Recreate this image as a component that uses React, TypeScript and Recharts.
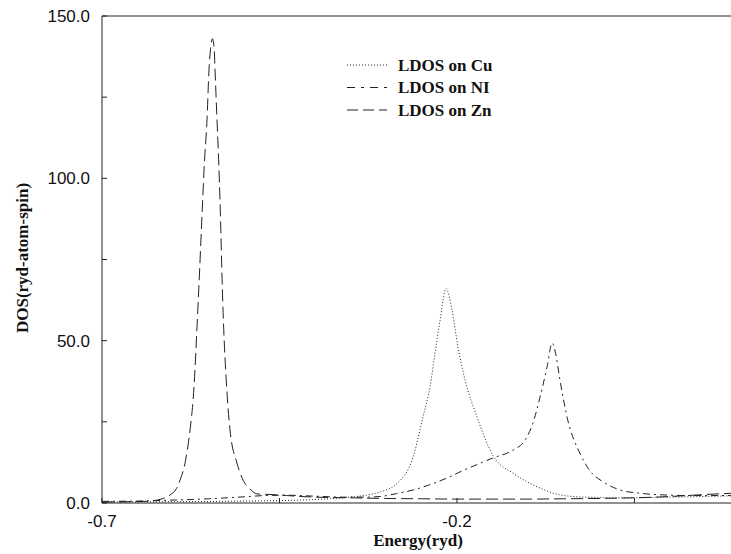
import { LineChart, Line, XAxis, YAxis, ReferenceLine, Legend } from 'recharts';

// Energy (ryd) / DOS points, one pair of arrays per atom
const cuEnergy = [-0.70, -0.60, -0.50, -0.42, -0.38, -0.351, -0.3085, -0.2845, -0.262, -0.2479, -0.238, -0.231, -0.224, -0.2155, -0.207, -0.1986, -0.1887, -0.1718, -0.149, -0.121, -0.087, -0.055, -0.02, 0.03, 0.10, 0.186];
const cuDos = [0.3, 0.4, 0.6, 0.9, 1.3, 1.8, 3.4, 6.0, 14.0, 26.5, 35.7, 46, 56, 66, 59.5, 48, 38, 26.5, 14.5, 9.2, 5.0, 2.5, 1.8, 1.6, 1.8, 2.2];

const niEnergy = [-0.70, -0.65, -0.60, -0.55, -0.50, -0.47, -0.44, -0.40, -0.36, -0.33, -0.3085, -0.285, -0.262, -0.24, -0.214, -0.1915, -0.17, -0.149, -0.121, -0.104, -0.093, -0.083, -0.073, -0.066, -0.061, -0.055, -0.044, -0.027, -0.013, 0.006, 0.030, 0.058, 0.09, 0.12, 0.15, 0.186];
const niDos = [0.5, 0.6, 0.9, 1.3, 1.9, 2.3, 2.4, 2.1, 1.8, 1.8, 2.0, 2.9, 4.0, 5.5, 7.7, 10.0, 12.0, 13.9, 16.3, 19.4, 24.6, 32.6, 42, 49.3, 46, 38, 25.6, 15.4, 10.0, 6.5, 4.0, 3.0, 2.5, 2.3, 2.3, 2.3];

const znEnergy = [-0.70, -0.66, -0.64, -0.628, -0.615, -0.604, -0.595, -0.590, -0.583, -0.576, -0.5714, -0.5644, -0.5582, -0.5563, -0.5521, -0.5493, -0.547, -0.5445, -0.542, -0.5408, -0.538, -0.5352, -0.5338, -0.530, -0.5235, -0.5197, -0.5099, -0.5014, -0.49, -0.4817, -0.46, -0.44, -0.42, -0.40, -0.35, -0.30, -0.25, -0.20, -0.15, -0.10, -0.05, 0.00, 0.05, 0.10, 0.14, 0.186];
const znDos = [0.3, 0.4, 0.5, 0.7, 1.3, 2.5, 4.5, 7.1, 12.3, 22.5, 32.6, 62.5, 93.3, 102.6, 118, 133.4, 140, 143, 140, 133.4, 118, 102.6, 93.3, 62.5, 32.6, 22.5, 12.3, 7.1, 4.0, 2.8, 2.6, 2.3, 2.0, 1.8, 1.6, 1.4, 1.3, 1.2, 1.2, 1.2, 1.3, 1.4, 1.6, 2.0, 2.5, 3.0];

const xTicks = [-0.7, -0.45, -0.2, 0.05];
const xLabelled = [-0.7, -0.2];
const yTicks = [0, 25, 50, 75, 100, 125, 150];
const yLabelled = [0, 50, 100, 150];

const series = [
  { name: 'LDOS on Cu', energy: cuEnergy, dos: cuDos, dash: '1 2' },
  { name: 'LDOS on NI', energy: niEnergy, dos: niDos, dash: '7 4 2 4' },
  { name: 'LDOS on Zn', energy: znEnergy, dos: znDos, dash: '12 5' },
];

const legendDash = ['1 2', '8 6 3 6', '11 5'];

const toRows = (energy: number[], dos: number[]) => energy.map((e, i) => ({ e, v: dos[i] }));

const sans = '"Liberation Sans", Arial, sans-serif';
const serif = '"Liberation Serif", "Times New Roman", serif';
const ink = '#222';

const near = (list: number[], v: number) => list.some((t) => Math.abs(t - v) < 1e-9);

const XTick = (props: any) => {
  const { x, y, payload } = props;
  if (!near(xLabelled, payload.value)) return <g />;
  return (
    <text x={x} y={y} dy="0.71em" textAnchor="middle" fontFamily={sans} fontSize={17} fill="#111">
      {payload.value.toFixed(1)}
    </text>
  );
};

const YTick = (props: any) => {
  const { x, y, payload } = props;
  if (!near(yLabelled, payload.value)) return <g />;
  return (
    <text x={x} y={y} dy="0.35em" textAnchor="end" fontFamily={sans} fontSize={17} fill="#111">
      {payload.value.toFixed(1)}
    </text>
  );
};

const renderLegend = () => (
  <svg width={200} height={72}>
    {series.map((s, i) => (
      <g key={s.name}>
        <line x1={7} x2={47} y1={13 + i * 22.5} y2={13 + i * 22.5} stroke={ink} strokeWidth={1} strokeDasharray={legendDash[i]} />
        <text x={58} y={13 + i * 22.5} dy="0.33em" fontFamily={serif} fontWeight="bold" fontSize={17} fill="#111">
          {s.name}
        </text>
      </g>
    ))}
  </svg>
);

export default function App() {
  return (
    <div style={{ position: 'absolute', left: 0, top: 0, background: '#fff' }}>
      <LineChart width={731} height={554} margin={{ top: 16, right: 0, bottom: 0, left: 0 }}>
        <XAxis
          type="number"
          dataKey="e"
          domain={[-0.7, 0.186]}
          allowDataOverflow
          ticks={xTicks}
          interval={0}
          height={51}
          tick={XTick}
          tickSize={-5}
          tickMargin={17}
          axisLine={{ stroke: ink }}
          tickLine={{ stroke: ink }}
          label={{
            content: () => (
              <text x={418} y={546} textAnchor="middle" fontFamily={serif} fontWeight="bold" fontSize={17} fill="#111">
                Energy(ryd)
              </text>
            ),
          }}
        />
        <YAxis
          type="number"
          dataKey="v"
          domain={[0, 150]}
          allowDataOverflow
          ticks={yTicks}
          interval={0}
          width={102}
          tick={YTick}
          tickSize={-5}
          tickMargin={17}
          axisLine={{ stroke: ink }}
          tickLine={{ stroke: ink }}
          label={{
            content: () => (
              <text x={22} y={258} transform="rotate(-90 22 258)" textAnchor="middle" dy="0.35em" fontFamily={serif} fontWeight="bold" fontSize={17} fill="#111">
                DOS(ryd-atom-spin)
              </text>
            ),
          }}
        />
        <ReferenceLine y={150} stroke={ink} strokeWidth={1} />
        <Legend
          content={renderLegend}
          layout="horizontal"
          verticalAlign="middle"
          align="center"
          wrapperStyle={{ left: 340, top: 52, width: 200 }}
        />
        {series.map((s) => (
          <Line
            key={s.name}
            name={s.name}
            data={toRows(s.energy, s.dos)}
            dataKey="v"
            type="monotone"
            stroke={ink}
            strokeWidth={1}
            strokeDasharray={s.dash}
            dot={false}
            isAnimationActive={false}
          />
        ))}
      </LineChart>
    </div>
  );
}
